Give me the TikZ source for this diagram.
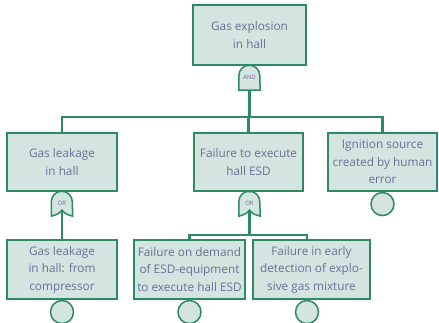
\documentclass[tikz,border=0pt]{standalone}
\usepackage{fontspec}
\setmainfont{Open Sans}
\usetikzlibrary{positioning,calc,backgrounds}

\definecolor{linegreen}{HTML}{2E8A65}
\definecolor{boxfill}{HTML}{D4E4E0}
\definecolor{textgray}{HTML}{6C7093}

\begin{document}
\begin{tikzpicture}[x=1pt, y=-1pt,
  box/.style={draw=linegreen, fill=boxfill, line width=1.6pt, align=center, inner sep=1pt,
    minimum height=58pt, text=textgray, font=\fontsize{11.8}{17.5}\selectfont},
  gatetxt/.style={minimum width=21pt, minimum height=25pt, inner sep=0pt, text=textgray,
    font=\fontsize{6}{7}\selectfont},
  gate/.style={draw=linegreen, fill=boxfill, line width=1.5pt},
  event/.style={circle, draw=linegreen, fill=boxfill, line width=1.5pt, minimum size=23pt, inner sep=0pt},
  link/.style={draw=linegreen, line width=2.7pt}]
\useasboundingbox (0,0) rectangle (439,323);

% top event and AND gate
\node[box, minimum width=113pt, minimum height=60pt] (expl) at (249.5,35) {Gas explosion\\in hall};
\node[gatetxt] (gand) at (249.5,77.5) {AND};
\begin{scope}[on background layer]
\draw[gate] (gand.south west) -- ++(0,-14.5) arc[start angle=180, end angle=0, radius=10.5pt] -- (gand.south east) -- cycle;
\end{scope}

% second level
\node[box, minimum width=110pt] (leak) at (62,162) {Gas leakage\\in hall};
\node[box, minimum width=109pt] (esd) at (248.5,162) {Failure to execute\\hall ESD};
\node[box, minimum width=109pt] (ign) at (382.5,162) {Ignition source\\created by human\\error};
\node[event, below=0pt of ign] (ignc) {};

\coordinate (bus) at (248.5,117);
\draw[link] (gand.south) -- (gand.south |- bus);
\draw[link] (leak.north) |- (bus) -| (ign.north);
\draw[link] (bus) -- (esd.north);

% OR gates
\node[gatetxt] (gor1) at (62,203.5) {OR};
\node[gatetxt] (gor2) at (249.5,203.5) {OR};
\begin{scope}[on background layer]
\foreach \g in {gor1,gor2}{
  \draw[gate] (\g.south west) -- ++(0,-14.5) arc[start angle=180, end angle=0, radius=10.5pt]
    -- (\g.south east) .. controls ($(\g.south)+(4,-2)$) .. ($(\g.south)+(0,-6)$)
    .. controls ($(\g.south)+(-4,-2)$) .. cycle;
}
\end{scope}

% basic events
\node[box, minimum width=110pt, minimum height=59pt] (leakc) at (62,269.5) {Gas leakage\\in hall: from\\compressor};
\node[box, minimum width=111pt, minimum height=59pt] (esda) at (189.5,269.5) {Failure on demand\\of ESD-equipment\\to execute hall ESD};
\node[box, minimum width=117pt, minimum height=59pt] (esdb) at (311.5,269.5) {Failure in early\\detection of explo-\\sive gas mixture};
\node[event, below=0pt of leakc] (leakcc) {};
\node[event, below=0pt of esda] (esdac) {};
\node[event, below=0pt of esdb, xshift=-4.5pt] (esdbc) {};

\draw[link] (leak.south) -- (gor1.north);
\draw[link] ($(gor1.south)+(0,-6)$) -- (leakc.north);
\draw[link] (esd.south) -- (gor2.north);
\coordinate (bus2) at (249.5,235);
\draw[link] ($(gor2.south)+(0,-6)$) -- (bus2);
\draw[link] (esda.north) |- (bus2) -| ([xshift=-4.5pt]esdb.north);
\end{tikzpicture}
\end{document}
